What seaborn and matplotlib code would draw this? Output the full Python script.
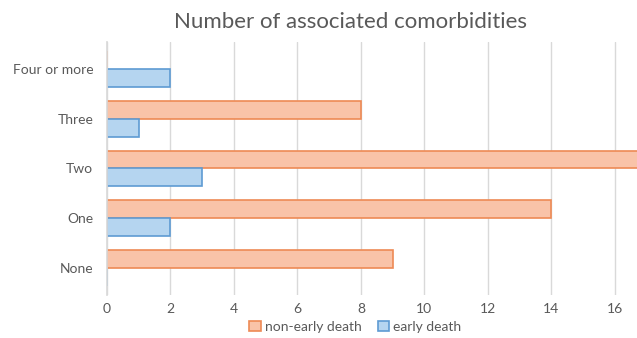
import matplotlib
matplotlib.use("Agg")
import matplotlib.pyplot as plt
import pandas as pd
import seaborn as sns

# values
categories = ["Four or more", "Three", "Two", "One", "None"]
non_early_death = [0, 8, 17, 14, 9]
early_death = [2, 1, 3, 2, 0]
series_names = ["non-early death", "early death"]
x_ticks = [0, 2, 4, 6, 8, 10, 12, 14, 16]

df = pd.DataFrame({
    "category": categories * 2,
    "count": non_early_death + early_death,
    "group": [series_names[0]] * len(categories) + [series_names[1]] * len(categories),
})

sns.set_theme(style="white")
plt.rcParams["font.family"] = ["Lato", "DejaVu Sans"]

grey_text = "#595959"
fill_colors = {"non-early death": "#F9C3A8", "early death": "#B5D5F0"}
edge_colors = {"non-early death": "#EE8A55", "early death": "#5E9BD3"}

fig = plt.figure(figsize=(6.37, 3.38), dpi=100)
ax = fig.add_axes([0.168, 0.127, 0.832, 0.749])

sns.barplot(data=df, y="category", x="count", hue="group",
            order=categories, hue_order=series_names,
            palette=fill_colors, saturation=1, width=0.72, gap=0.0,
            orient="h", legend=False, ax=ax)

# outline each bar in the darker tone of its series
n = len(categories)
for i, patch in enumerate(ax.patches[:2 * n]):
    name = series_names[i // n]
    patch.set_edgecolor(edge_colors[name])
    patch.set_linewidth(1.2)

ax.set_xlim(0, 16.7)
ax.set_ylim(4.55, -0.55)
ax.set_xticks(x_ticks)
ax.xaxis.grid(True, color="#D9D9D9", linewidth=1)
ax.set_axisbelow(True)
for side in ["top", "right", "bottom"]:
    ax.spines[side].set_visible(False)
ax.spines["left"].set_color("#D9D9D9")
ax.tick_params(axis="y", length=0, labelsize=10, labelcolor=grey_text, pad=10)
ax.tick_params(axis="x", length=0, labelsize=10, labelcolor=grey_text, pad=6)
ax.set_xlabel("")
ax.set_ylabel("")

fig.text(0.551, 0.935, "Number of associated comorbidities",
         ha="center", va="center", fontsize=16, color=grey_text)

handles = [plt.Rectangle((0, 0), 1, 1, facecolor=fill_colors[s],
                         edgecolor=edge_colors[s], linewidth=1.2) for s in series_names]
fig.legend(handles, series_names, loc="center", bbox_to_anchor=(0.558, 0.033),
           ncol=2, frameon=False, fontsize=10, labelcolor=grey_text,
           handlelength=0.8, handleheight=0.8, handletextpad=0.3, columnspacing=1.2)

fig.savefig("out.png", dpi=100)
